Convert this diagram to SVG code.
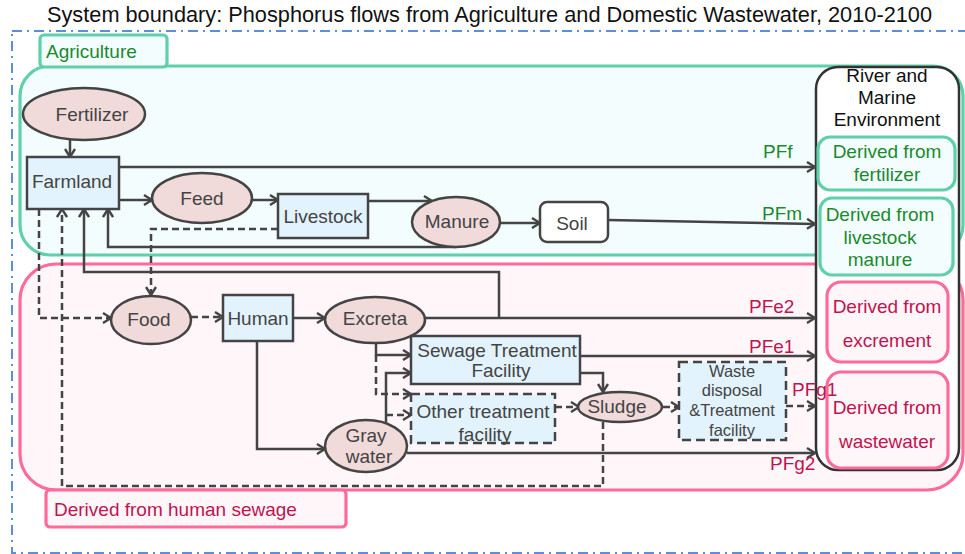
<svg xmlns="http://www.w3.org/2000/svg" width="965" height="554" viewBox="0 0 965 554">
<defs>
<marker id="arr" viewBox="0 0 10 12" refX="9" refY="6" markerWidth="10" markerHeight="12" markerUnits="userSpaceOnUse" orient="auto">
<path d="M1,1 L9,6 L1,11" fill="none" stroke="#444" stroke-width="2.4" stroke-linejoin="miter"/>
</marker>
</defs>
<style>
text{font-family:"Liberation Sans",Arial,sans-serif;font-size:19px;fill:#444}
.t{fill:#111;font-size:21.8px}
.blk{fill:#111}
.g{fill:#1a8a2e}
.p{fill:#c01450}
.c{text-anchor:middle}
.ell{fill:#f0dada;stroke:#444;stroke-width:2.5}
.box{fill:#e2f3fd;stroke:#444;stroke-width:2.5}
.dbox{fill:#e2f3fd;stroke:#444;stroke-width:2.5;stroke-dasharray:9,5}
.ln{fill:none;stroke:#444;stroke-width:2.5;marker-end:url(#arr)}
.ds{fill:none;stroke:#444;stroke-width:2.5;stroke-dasharray:7,4;marker-end:url(#arr)}
.gr{fill:#f3fdfd;stroke:#5fd0aa;stroke-width:3.2}
.pk{fill:#fff6f9;stroke:#ff6b99;stroke-width:3.2}
.sm{font-size:16.5px}
</style>
<rect width="965" height="554" fill="#fff"/>
<text class="t" x="47" y="22" textLength="885" lengthAdjust="spacingAndGlyphs">System boundary: Phosphorus flows from Agriculture and Domestic Wastewater, 2010-2100</text>
<rect x="12" y="31" width="962" height="522" fill="none" stroke="#5b8fd9" stroke-width="2" stroke-dasharray="10,5,2,5"/>
<g id="agriculture-region">
<rect class="gr" x="20" y="66" width="943" height="189" rx="30"/>
<rect class="gr" x="40" y="35" width="127" height="32" rx="4"/>
<text class="g" x="46" y="58">Agriculture</text>
</g>
<g id="sewage-region">
<rect class="pk" x="20" y="264" width="943" height="226" rx="36"/>
<rect class="pk" x="46" y="490" width="300" height="37" rx="4"/>
<text class="p" x="54" y="516">Derived from human sewage</text>
</g>
<g id="river">
<rect x="816" y="67" width="143" height="403" rx="22" fill="#fff" stroke="#333" stroke-width="2.5"/>
<text class="blk c" x="887" y="82">River and</text>
<text class="blk c" x="887" y="104">Marine</text>
<text class="blk c" x="887" y="126">Environment</text>
</g>
<g id="from-fertilizer">
<rect class="gr" x="818" y="137" width="137" height="53" rx="12"/>
<text class="g c" x="887" y="158">Derived from</text>
<text class="g c" x="887" y="181">fertilizer</text>
</g>
<g id="from-manure">
<rect class="gr" x="820" y="198" width="133" height="77" rx="12"/>
<text class="g c" x="880" y="221">Derived from</text>
<text class="g c" x="880" y="244">livestock</text>
<text class="g c" x="880" y="266">manure</text>
</g>
<g id="from-excrement">
<rect class="pk" x="827" y="282" width="121" height="80" rx="14"/>
<text class="p c" x="887" y="313">Derived from</text>
<text class="p c" x="887" y="347">excrement</text>
</g>
<g id="from-wastewater">
<rect class="pk" x="827" y="372" width="121" height="96" rx="14"/>
<text class="p c" x="887" y="414">Derived from</text>
<text class="p c" x="887" y="448">wastewater</text>
</g>
<g id="connectors">
<path class="ln" d="M70,139 V157"/>
<path class="ln" d="M119,167 H815"/>
<path class="ln" d="M119,200 H152"/>
<path class="ln" d="M252,200 H278"/>
<path class="ln" d="M368,201 H432"/>
<path class="ln" d="M500,223 H540"/>
<path class="ln" d="M608,220 L815,224"/>
<path class="ln" d="M456,247 H108 V209"/>
<path class="ln" d="M499,318 V272 H84 V209"/>
<path class="ds" d="M39,209 V318 H111"/>
<path class="ds" d="M603,422 V486 H62 V209"/>
<path class="ds" d="M278,229 H151 V295"/>
<path class="ds" d="M191,317 H223"/>
<path class="ln" d="M293,318 H325"/>
<path class="ln" d="M424,318 H815"/>
<path class="ln" d="M257,341 V449 H325"/>
<path class="ln" d="M407,453 H815"/>
<path class="ln" d="M376,343 V355 H411"/>
<path class="ds" d="M376,355 V394 H411"/>
<path class="ln" d="M386,423 V373 H411"/>
<path class="ds" d="M386,415 H411"/>
<path class="ln" d="M580,356 H815"/>
<path class="ln" d="M580,373 H603 V392"/>
<path class="ds" d="M555,407 H579"/>
<path class="ds" d="M663,407 H679"/>
<path class="ds" d="M786,406 H815"/>
</g>
<g id="fertilizer"><ellipse class="ell" cx="84" cy="114" rx="61" ry="26"/><text class="c" x="92" y="121">Fertilizer</text></g>
<g id="farmland"><rect class="box" x="27" y="157" width="92" height="52"/><text class="c" x="72" y="188">Farmland</text></g>
<g id="feed"><ellipse class="ell" cx="202" cy="198" rx="50" ry="25"/><text class="c" x="202" y="205">Feed</text></g>
<g id="livestock"><rect class="box" x="278" y="194" width="90" height="44"/><text class="c" x="323" y="223">Livestock</text></g>
<g id="manure"><ellipse class="ell" cx="456" cy="222" rx="44" ry="25"/><text class="c" x="457" y="228">Manure</text></g>
<g id="soil"><rect x="540" y="202" width="68" height="40" rx="7" fill="#fff" stroke="#444" stroke-width="2.5"/><text class="c" x="572" y="230">Soil</text></g>
<g id="food"><ellipse class="ell" cx="151" cy="320" rx="40" ry="24"/><text class="c" x="149" y="326">Food</text></g>
<g id="human"><rect class="box" x="223" y="295" width="70" height="46"/><text class="c" x="258" y="325">Human</text></g>
<g id="excreta"><ellipse class="ell" cx="375" cy="320" rx="50" ry="23"/><text class="c" x="375" y="325">Excreta</text></g>
<g id="graywater"><ellipse class="ell" cx="366" cy="446" rx="41" ry="26"/><text class="c" x="366" y="442">Gray</text><text class="c" x="369" y="463">water</text></g>
<g id="sewage-treatment"><rect class="box" x="411" y="336" width="169" height="48"/><text class="c" x="497" y="357">Sewage Treatment</text><text class="c" x="501" y="377">Facility</text></g>
<g id="other-treatment"><rect class="dbox" x="411" y="394" width="144" height="49"/><text class="c" x="483" y="418">Other treatment</text><text class="c" x="485" y="441">facility</text></g>
<g id="sludge"><ellipse class="ell" cx="620" cy="407" rx="42" ry="15"/><text class="c" x="617" y="413">Sludge</text></g>
<g id="waste-disposal"><rect class="dbox" x="679" y="362" width="107" height="78"/><text class="c sm" x="732" y="377">Waste</text><text class="c sm" x="732" y="396">disposal</text><text class="c sm" x="732" y="416">&amp;Treatment</text><text class="c sm" x="732" y="436">facility</text></g>
<g id="labels">
<text class="g" x="763" y="158">PFf</text>
<text class="g" x="762" y="220">PFm</text>
<text class="p" x="749" y="313">PFe2</text>
<text class="p" x="749" y="353">PFe1</text>
<text class="p" x="792" y="396">PFg1</text>
<text class="p" x="770" y="470">PFg2</text>
</g>
</svg>
